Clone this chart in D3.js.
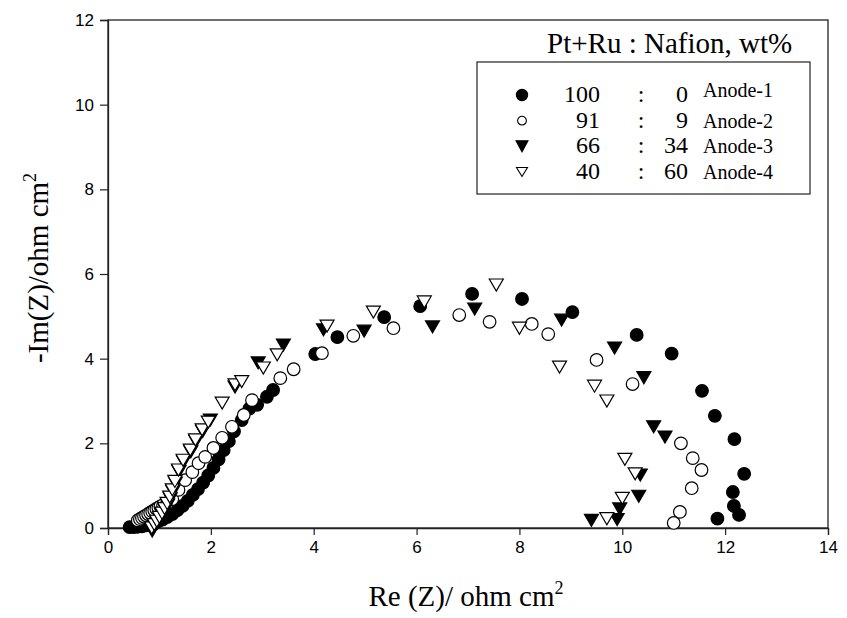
<!DOCTYPE html>
<html>
<head>
<meta charset="utf-8">
<script src="https://cdn.jsdelivr.net/npm/d3@7"></script>
<style>
  body { margin: 0; background: #fff; }
</style>
</head>
<body>
<div id="chart"></div>
<script>
// ejes
const xTicks = [0, 2, 4, 6, 8, 10, 12, 14];
const yTicks = [0, 2, 4, 6, 8, 10, 12];

// Anode-1 (Pt+Ru:Nafion 100:0), circulo relleno
const anode1 = [
  [0.42, 0.02], [0.5, 0.02], [0.58, 0.03], [0.66, 0.04], [0.74, 0.06], [0.82, 0.09], [0.9, 0.12],
  [0.98, 0.16], [1.06, 0.2], [1.15, 0.26], [1.25, 0.33], [1.35, 0.42], [1.45, 0.52], [1.55, 0.64],
  [1.65, 0.78], [1.75, 0.92], [1.85, 1.07], [1.95, 1.24], [2.05, 1.42], [2.15, 1.62],
  [2.25, 1.84], [2.35, 2.05], [2.45, 2.28], [2.6, 2.55], [2.75, 2.82], [2.9, 2.91],
  [3.09, 3.1], [3.21, 3.26], [4.03, 4.11], [4.46, 4.51], [5.37, 4.98], [6.07, 5.24],
  [7.08, 5.53], [8.05, 5.41], [9.03, 5.1], [10.28, 4.56], [10.96, 4.12], [11.55, 3.24],
  [11.8, 2.65], [12.18, 2.1], [12.37, 1.28], [12.15, 0.85], [12.17, 0.52], [12.27, 0.31],
  [11.85, 0.22]
];

// Anode-2 (91:9), circulo abierto
const anode2 = [
  [0.58, 0.18], [0.62, 0.21], [0.66, 0.24], [0.7, 0.27], [0.74, 0.3], [0.78, 0.33],
  [0.82, 0.36], [0.86, 0.39], [0.9, 0.42], [0.94, 0.45], [0.98, 0.48], [1.02, 0.51],
  [1.07, 0.54], [1.15, 0.58], [1.25, 0.68], [1.37, 0.9], [1.5, 1.13], [1.64, 1.32],
  [1.76, 1.53], [1.89, 1.68], [2.05, 1.89], [2.22, 2.13], [2.41, 2.39], [2.64, 2.67],
  [2.8, 3.02], [3.35, 3.54], [3.61, 3.75], [4.16, 4.13], [4.77, 4.54], [5.55, 4.72],
  [6.83, 5.03], [7.42, 4.87], [8.24, 4.82], [8.56, 4.58], [9.5, 3.97], [10.2, 3.4],
  [11.14, 2.0], [11.37, 1.65], [11.54, 1.37], [11.35, 0.94], [11.12, 0.38], [11.0, 0.12]
];

// Anode-3 (66:34), triangulo relleno
const anode3 = [
  [0.86, -0.07], [0.9, 0.03], [0.96, 0.11], [1.01, 0.21], [1.06, 0.31], [1.11, 0.42],
  [1.16, 0.54], [1.21, 0.69], [1.26, 0.86], [1.31, 1.06], [1.38, 1.33], [1.47, 1.56],
  [1.61, 1.8], [1.71, 2.04], [1.84, 2.28], [1.99, 2.55], [2.47, 3.33], [2.92, 3.9],
  [3.41, 4.32], [4.19, 4.68], [4.98, 4.65], [6.31, 4.75], [7.13, 5.17], [8.82, 4.91],
  [9.85, 4.25], [10.42, 3.55], [10.61, 2.39], [10.83, 2.15], [10.35, 1.25],
  [10.32, 0.75], [9.95, 0.45], [9.9, 0.2], [9.4, 0.18]
];

// Anode-4 (40:60), triangulo abierto
const anode4 = [
  [0.85, 0.0], [0.9, 0.08], [0.95, 0.16], [1.0, 0.25], [1.05, 0.35], [1.1, 0.46],
  [1.15, 0.58], [1.2, 0.73], [1.25, 0.9], [1.3, 1.1], [1.37, 1.37], [1.46, 1.6],
  [1.6, 1.84], [1.7, 2.08], [1.83, 2.32], [1.95, 2.5], [2.22, 2.95], [2.47, 3.38],
  [2.6, 3.46], [3.02, 3.78], [3.29, 4.09], [4.26, 4.77], [5.16, 5.1], [6.15, 5.34],
  [7.55, 5.74], [8.0, 4.72], [8.78, 3.8], [9.46, 3.35], [9.7, 3.0], [10.05, 1.62],
  [10.25, 1.28], [10.0, 0.7], [9.7, 0.22]
];

// leyenda
const legendNames = ["Anode-1", "Anode-2", "Anode-3", "Anode-4"];
const legendPtRu = ["100", "91", "66", "40"];
const legendNafion = ["0", "9", "34", "60"];
const legendTitle = "Pt+Ru : Nafion, wt%";

const W = 847, H = 618;
const plot = { left: 108, right: 828, top: 20, bottom: 528 };

const svg = d3.select("#chart")
  .append("svg")
  .attr("width", W)
  .attr("height", H);

const x = d3.scaleLinear().domain([0, 14]).range([plot.left, plot.right]);
const y = d3.scaleLinear().domain([0, 12]).range([plot.bottom, plot.top]);

// marco
svg.append("rect")
  .attr("x", plot.left).attr("y", plot.top)
  .attr("width", plot.right - plot.left).attr("height", plot.bottom - plot.top)
  .attr("fill", "none").attr("stroke", "#222").attr("stroke-width", 1.3);

// Ejes
const xAxis = svg.append("g")
  .attr("transform", `translate(0,${plot.bottom})`)
  .call(d3.axisBottom(x).tickValues(xTicks).tickSize(7).tickPadding(6).tickFormat(d3.format("d")));
const yAxis = svg.append("g")
  .attr("transform", `translate(${plot.left},0)`)
  .call(d3.axisLeft(y).tickValues(yTicks).tickSize(8).tickPadding(6).tickFormat(d3.format("d")));

[xAxis, yAxis].forEach(g => {
  g.select(".domain").attr("stroke", "#222").attr("stroke-width", 1.3);
  g.selectAll(".tick line").attr("stroke", "#222").attr("stroke-width", 1.2);
  g.selectAll(".tick text")
    .attr("fill", "#000")
    .style("font-family", "'Liberation Sans', Arial, sans-serif")
    .style("font-size", "17px");
});

// marcadores
function downTri(w, h) {
  return `M${-w / 2},${-h / 2}L${w / 2},${-h / 2}L0,${h / 2}Z`;
}
const circlePath = d3.symbol().type(d3.symbolCircle).size(125)();

const series = [
  { data: anode1, path: circlePath, fill: "#000" },
  { data: anode2, path: circlePath, fill: "#fff" },
  { data: anode3, path: downTri(14, 12), fill: "#000" },
  { data: anode4, path: downTri(14, 12), fill: "#fff" }
];

series.forEach(s => {
  svg.append("g")
    .selectAll("path")
    .data(s.data)
    .enter()
    .append("path")
    .attr("transform", d => `translate(${x(d[0])},${y(d[1])})`)
    .attr("d", s.path)
    .attr("fill", s.fill)
    .attr("stroke", "#000")
    .attr("stroke-width", 1.2);
});

// Leyenda
const serif = "'Liberation Serif', 'Times New Roman', serif";
svg.append("text")
  .attr("x", 547).attr("y", 53)
  .style("font-family", serif).style("font-size", "29px")
  .text(legendTitle);

const lg = svg.append("g");
lg.append("rect")
  .attr("x", 477).attr("y", 62).attr("width", 333).attr("height", 132)
  .attr("fill", "#fff").attr("stroke", "#222").attr("stroke-width", 1.2);

const legendMarks = [
  d3.symbol().type(d3.symbolCircle).size(100)(),
  d3.symbol().type(d3.symbolCircle).size(60)(),
  downTri(12, 11),
  downTri(11, 9)
];
const legendFill = ["#000", "#fff", "#000", "#fff"];
const rowY = d3.scalePoint().domain(legendNames).range([95, 172]);

lg.selectAll("path")
  .data(legendNames)
  .enter()
  .append("path")
  .attr("transform", d => `translate(522,${rowY(d)})`)
  .attr("d", (d, i) => legendMarks[i])
  .attr("fill", (d, i) => legendFill[i])
  .attr("stroke", "#000")
  .attr("stroke-width", 1.1);

const rows = lg.selectAll("g.row")
  .data(legendNames)
  .enter()
  .append("g")
  .attr("class", "row")
  .attr("transform", d => `translate(0,${rowY(d) + 7})`)
  .style("font-family", serif);

rows.append("text").attr("x", 600).attr("text-anchor", "end").style("font-size", "24px")
  .text((d, i) => legendPtRu[i]);
rows.append("text").attr("x", 641).attr("text-anchor", "middle").style("font-size", "24px")
  .text(":");
rows.append("text").attr("x", 688).attr("text-anchor", "end").style("font-size", "24px")
  .text((d, i) => legendNafion[i]);
rows.append("text").attr("x", 703).attr("dy", (d, i) => i === 0 ? -5 : 0).style("font-size", "20px")
  .text(d => d);

// Titulos de ejes
const xt = svg.append("text")
  .attr("x", (plot.left + plot.right) / 2 - 2).attr("y", 606)
  .attr("text-anchor", "middle")
  .style("font-family", serif).style("font-size", "29px");
xt.append("tspan").text("Re (Z)/ ohm cm");
xt.append("tspan").attr("dy", -12).style("font-size", "18px").text("2");

const yt = svg.append("text")
  .attr("transform", `translate(48,268) rotate(-90)`)
  .attr("text-anchor", "middle")
  .style("font-family", serif).style("font-size", "29px");
yt.append("tspan").text("-Im(Z)/ohm cm");
yt.append("tspan").attr("dy", -12).style("font-size", "18px").text("2");
</script>
</body>
</html>
